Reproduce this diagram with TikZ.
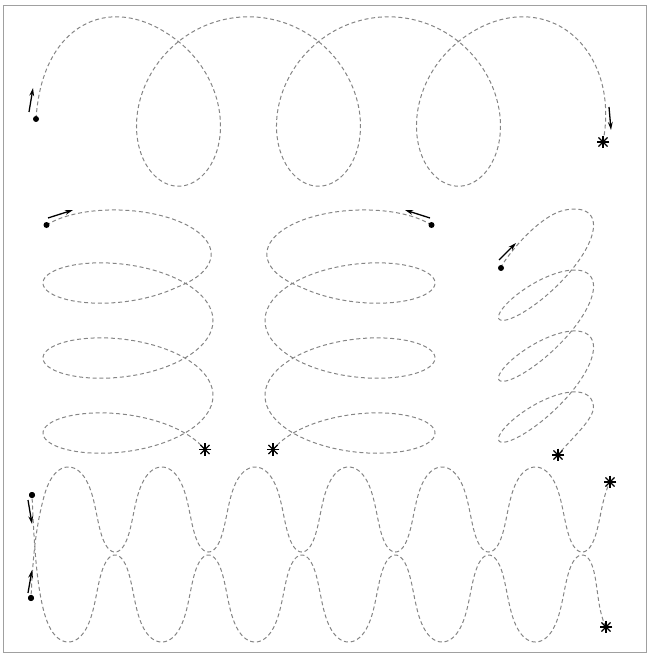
\documentclass[tikz,border=0pt]{standalone}
\usepackage{tikz}
\usetikzlibrary{arrows.meta}
\definecolor{orbitgray}{HTML}{858585}
\definecolor{boxgray}{HTML}{A0A0A0}
% smooth 0..1 ramp used to bend the first and last turns
\pgfmathdeclarefunction{easeramp}{1}{%
  \pgfmathsetmacro\easeu{max(0,min(1,#1))}%
  \pgfmathparse{\easeu*\easeu*(3-2*\easeu)}}
\begin{document}
\begin{tikzpicture}[x=0.1mm, y=-0.1mm,
    orbit/.style={orbitgray, line width=0.1mm, dash pattern=on 0.4mm off 0.28mm},
    dirarrow/.style={-{Stealth[length=0.8mm, width=0.48mm]}, line width=0.13mm, black},
    startdot/.style={circle, fill=black, inner sep=0pt, minimum size=0.6mm},
    endstar/.style={circle, inner sep=0pt, minimum size=1.15mm},
    spoke/.style={line width=0.12mm, black}]
  \useasboundingbox (0,0) rectangle (649,655);
  \draw[boxgray, line width=0.1mm] (3,6) rectangle (646,652);
  % top row: wide arches above, narrow loops below
  \draw[orbit] plot[domain=-1.489:20.62, samples=700, variable=\t]
    ({108.5 + 77*sin(deg(\t)) + 44.56*(\t/2 + sin(deg(2*\t))/4)
       + 39.2*easeramp((0.6-\t)/2.089) - 36*easeramp((\t-18.25)/2.372)},
     {126 - 1.1*(77*cos(deg(\t)) + 22.28*cos(deg(\t))*cos(deg(\t)))});
  \node[startdot] (dotTop) at (36,119) {};
  \node[endstar] (starTop) at (603,142) {};
  \coordinate (tailTop) at (29,112);  \coordinate (headTop) at (33,88);
  \coordinate (tailEnd) at (609,107); \coordinate (headEnd) at (611,130);
  \draw[dirarrow] (tailTop) -- (headTop);
  \draw[dirarrow] (tailEnd) -- (headEnd);
  % middle row, left: flat loops drifting down
  \draw[orbit] plot[domain=0.5:21.55, samples=600, variable=\t]
    ({128 - 85*cos(deg(\t)) - 7*max(0,(4.1-\t)/3.6)},
     {208 + 11.94*\t - 37*sin(deg(\t)) + 29*max(0,(4.1-\t)/3.6)});
  \node[startdot] (dotLeft) at (46.5,225) {};
  \node[endstar] (starLeft) at (205,449.5) {};
  \coordinate (tailLeft) at (48,218); \coordinate (headLeft) at (73,210);
  \draw[dirarrow] (tailLeft) -- (headLeft);
  % middle row, centre: the same orbit mirrored
  \begin{scope}[shift={(478,0)}, xscale=-1]
    \draw[orbit] plot[domain=0.5:21.55, samples=600, variable=\t]
      ({128 - 85*cos(deg(\t)) - 7*max(0,(4.1-\t)/3.6)},
       {208 + 11.94*\t - 37*sin(deg(\t)) + 29*max(0,(4.1-\t)/3.6)});
    \node[startdot] (dotMid) at (46.5,225) {};
    \node[endstar] (starMid) at (205,449.5) {};
    \coordinate (tailMid) at (48,218); \coordinate (headMid) at (73,210);
    \draw[dirarrow] (tailMid) -- (headMid);
    \foreach \a/\b in {0/180,45/225,90/270,135/315}
      \draw[spoke] (starMid.\a) -- (starMid.\b);
  \end{scope}
  % middle row, right: tilted loops
  \draw[orbit] plot[domain=-2.6:20.15, samples=650, variable=\t]
    ({546 + 45.9*cos(deg(\t)) + 12.3*sin(deg(\t)) - 12*easeramp((\t-19.05)/1.1)},
     {253.5 + 9.7*\t - 35.9*cos(deg(\t)) + 15.8*sin(deg(\t)) + 17*easeramp((-0.9-\t)/1.7)});
  \node[startdot] (dotRight) at (501,268) {};
  \node[endstar] (starRight) at (558,455) {};
  \coordinate (tailRight) at (499,260); \coordinate (headRight) at (516,243);
  \draw[dirarrow] (tailRight) -- (headRight);
  % bottom row: two meandering orbits either side of the midline
  \node[startdot] (dotHigh) at (32,495) {};
  \node[startdot] (dotLow) at (31,598) {};
  \draw[orbit] (dotHigh) .. controls (34,540) and (36.2,583.7) .. (44.2,612.6)
    -- plot[domain=-4.383:33.70, samples=900, variable=\t]
    ({115 + 14.87*\t + 3*sin(deg(2*\t)) - 4*sin(deg(\t)) - 4.2*easeramp((\t-31.416)/2.285)},
     {555 + 43.5*(1 - cos(deg(\t)))});
  \draw[orbit] (dotLow) .. controls (33,555) and (36.2,524.7) .. (44.2,495.8)
    -- plot[domain=-4.383:33.686, samples=900, variable=\t]
    ({115 + 14.87*\t + 3*sin(deg(2*\t)) - 4*sin(deg(\t))},
     {552 - 42.5*(1 - cos(deg(\t)))});
  \node[startdot] at (dotHigh) {};
  \node[startdot] at (dotLow) {};
  \node[endstar] (starHigh) at (610,482) {};
  \node[endstar] (starLow) at (606,627) {};
  \coordinate (tailHigh) at (28,500); \coordinate (headHigh) at (32,524);
  \coordinate (tailLow) at (28,593);  \coordinate (headLow) at (32,570);
  \draw[dirarrow] (tailHigh) -- (headHigh);
  \draw[dirarrow] (tailLow) -- (headLow);
  % asterisks at the end points
  \foreach \s in {starTop,starLeft,starRight,starHigh,starLow}
    \foreach \a/\b in {0/180,45/225,90/270,135/315}
      \draw[spoke] (\s.\a) -- (\s.\b);
\end{tikzpicture}
\end{document}
